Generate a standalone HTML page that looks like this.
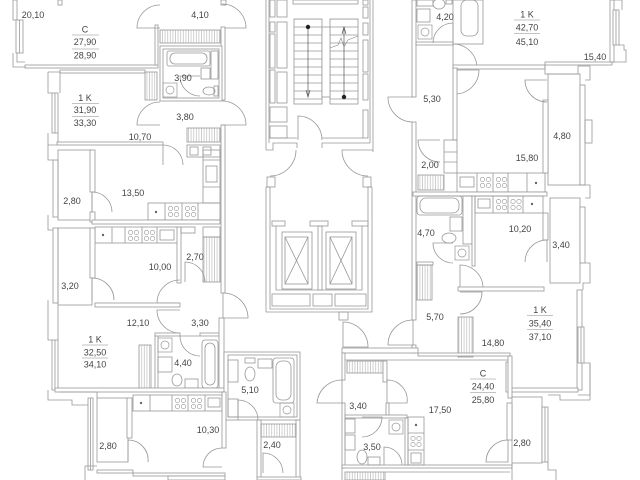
<!DOCTYPE html>
<html><head><meta charset="utf-8">
<style>
html,body{margin:0;padding:0;background:#fff;}
svg{display:block}
.w{fill:#fff;stroke:#979797;stroke-width:.8}
.l{fill:none;stroke:#979797;stroke-width:.8}
.h{fill:url(#hp);stroke:#979797;stroke-width:.8}
.t{font-family:"Liberation Sans",sans-serif;font-size:9px;fill:#444;text-anchor:middle}
.s{stroke:#888;stroke-width:.6}
</style></head><body>
<svg width="640" height="480" viewBox="0 0 640 480" xmlns="http://www.w3.org/2000/svg">
<defs>
<pattern id="hp" width="2.6" height="20" patternUnits="userSpaceOnUse"><line x1="1.3" y1="0" x2="1.3" y2="20" stroke="#a0a0a0" stroke-width=".5"/></pattern>
<pattern id="tr" width="40" height="8" patternUnits="userSpaceOnUse"><line x1="0" y1="3" x2="40" y2="3" stroke="#979797" stroke-width=".7"/></pattern>
<g id="ck" fill="none" stroke="#979797" stroke-width=".6"><circle cx="4.5" cy="4.5" r="2.2"/><circle cx="10.5" cy="4.5" r="2.2"/><circle cx="4.5" cy="10.5" r="2.2"/><circle cx="10.5" cy="10.5" r="2.2"/></g>
<g id="wm" fill="none" stroke="#979797" stroke-width=".7"><rect x="0" y="0" width="14" height="14"/><circle cx="7" cy="7" r="4"/></g>
</defs>

<!-- ===== LEFT ZONE ===== -->
<rect class="w" x="13" y="0" width="4" height="20"/>
<rect class="w" x="16" y="20" width="7" height="33"/><line class="l" x1="19.5" y1="20" x2="19.5" y2="53"/>
<path class="l" d="M13,53 V67 H25 M17,53 V62 H25"/>
<rect class="w" x="25" y="65" width="133" height="3"/>
<rect class="w" x="155" y="25" width="3" height="40"/>
<rect class="w" x="58" y="0" width="4" height="5"/>
<rect class="w" x="221" y="0" width="5" height="5"/>
<rect class="h" x="160" y="30" width="60" height="13"/>
<path class="l" d="M160,28 H137 A23,23 0 0 1 160,5"/>
<path class="l" d="M222,28 H246 A24,24 0 0 0 222,4"/>
<rect class="w" x="221" y="27" width="4" height="73"/>
<rect class="w" x="221" y="125" width="4" height="168"/>

<!-- bath 3,90 -->
<rect class="w" x="160" y="46" width="62" height="55"/>
<rect class="l" x="163" y="49" width="56" height="49"/>
<rect class="l" x="167" y="51" width="43" height="15" rx="2"/>
<rect class="l" x="170" y="53" width="37" height="11" rx="5"/>
<rect class="l" x="211" y="51" width="7" height="28"/>
<rect class="l" x="201" y="68" width="9" height="11"/>
<ellipse class="l" cx="209" cy="91" rx="6" ry="4"/>
<rect class="l" x="214" y="86" width="4" height="10"/>
<use href="#wm" x="163" y="83"/>
<path class="l" d="M200,76 H180 A20,20 0 0 0 200,96"/>

<!-- 1K 31,90 -->
<rect class="w" x="60" y="70" width="85" height="3"/>
<path class="l" d="M48,72 H60 M48,72 V93 H52 M60,72 V93"/>
<rect class="w" x="52" y="93" width="6" height="40"/><line class="l" x1="55" y1="93" x2="55" y2="133"/>
<path class="l" d="M48,133 V145 H57 M58,133 V142"/>
<rect class="h" x="145" y="72" width="12" height="28"/>
<rect class="w" x="57" y="142" width="106" height="3"/>
<path class="l" d="M163,165 V145 A20,20 0 0 1 183,165"/>
<path class="l" d="M160,125 H137 A23,23 0 0 1 160,102"/>
<path class="l" d="M222,125 H246 A24,24 0 0 0 222,101"/>
<rect class="h" x="187" y="128" width="33" height="14"/>
<rect class="l" x="187" y="145" width="33" height="12"/>
<rect class="l" x="190" y="147" width="8" height="8"/>
<rect class="l" x="203" y="147" width="8" height="8"/>

<!-- kitchen 13,50 -->
<path class="l" d="M48,145 V160 H53 M48,215 V230 H53"/>
<rect class="w" x="53" y="160" width="5" height="57"/>
<rect class="l" x="58" y="150" width="34" height="70"/>
<rect class="w" x="90" y="150" width="5" height="42"/>
<path class="l" d="M92,212 V192 A20,20 0 0 1 112,212"/>
<rect class="w" x="90" y="212" width="5" height="10"/>
<rect class="l" x="148" y="203" width="72" height="17"/>
<path class="l" d="M165,203 V220 M182,203 V220 M198,203 V220"/>
<circle cx="156" cy="212" r="1.2" fill="#666"/>
<use href="#ck" x="166" y="204"/><use href="#ck" x="183" y="204"/>
<rect class="l" x="203" y="150" width="17" height="53"/>
<path class="l" d="M203,160 H220 M203,187 H220"/>
<rect class="l" x="206" y="166" width="11" height="16"/>
<rect class="w" x="92" y="220" width="128" height="4"/>

<!-- 10,00 -->
<rect class="l" x="95" y="227" width="83" height="16"/>
<path class="l" d="M112,227 V243 M125,227 V243 M142,227 V243 M157,227 V243"/>
<circle cx="103" cy="235" r="1.2" fill="#666"/>
<use href="#ck" x="126" y="228"/><use href="#ck" x="142" y="228"/>
<rect class="l" x="160" y="230" width="14" height="10"/>
<rect class="w" x="177" y="227" width="4" height="56"/>
<rect class="l" x="181" y="227" width="14" height="6"/>
<rect class="l" x="203" y="227" width="17" height="10"/>
<rect class="h" x="203" y="237" width="17" height="45"/>
<rect class="w" x="53" y="228" width="5" height="75"/>
<rect class="l" x="58" y="228" width="34" height="77"/>
<rect class="w" x="90" y="228" width="5" height="50"/>
<path class="l" d="M92,300 V278 A22,22 0 0 1 114,300"/>
<path class="l" d="M180,303 H157 A23,23 0 0 1 180,280"/>
<path class="l" d="M185,282 V262 A20,20 0 0 1 205,282"/>
<path class="l" d="M223,318 V293 A25,25 0 0 1 248,318 Z"/>
<rect class="w" x="95" y="303" width="85" height="4"/>

<!-- 1K 32,50 -->
<path class="l" d="M48,300 V340 H52 M58,305 V340"/>
<rect class="w" x="52" y="340" width="6" height="50"/><line class="l" x1="55" y1="340" x2="55" y2="390"/>
<path class="l" d="M180,310 H157 A23,23 0 0 0 180,333"/>
<rect class="h" x="139" y="345" width="12" height="44"/>
<rect class="w" x="155" y="335" width="3" height="55"/>
<rect class="w" x="155" y="333" width="25" height="3"/>
<rect class="w" x="200" y="333" width="20" height="3"/>
<rect class="w" x="219" y="318" width="5" height="74"/>
<use href="#wm" x="158" y="338"/>
<rect class="l" x="158" y="357" width="14" height="15"/>
<ellipse class="l" cx="177" cy="380" rx="5" ry="6"/>
<rect class="l" x="185" y="379" width="13" height="9"/>
<rect class="l" x="202" y="340" width="16" height="48" rx="3"/>
<rect class="l" x="205" y="343" width="10" height="42" rx="5"/>
<path class="l" d="M200,336 H180 A20,20 0 0 0 200,356"/>
<rect class="w" x="55" y="388" width="170" height="4"/>

<!-- bath 5,10 -->
<rect class="w" x="224" y="352" width="76" height="68"/>
<rect class="l" x="228" y="355" width="69" height="62"/>
<rect class="l" x="228" y="360" width="10" height="22"/>
<ellipse class="l" cx="250" cy="374" rx="5" ry="7"/>
<rect class="l" x="245" y="358" width="10" height="5"/>
<rect class="l" x="258" y="359" width="14" height="9"/>
<rect class="l" x="273" y="358" width="21" height="45" rx="3"/>
<rect class="l" x="276" y="361" width="15" height="39" rx="6"/>
<use href="#wm" x="280" y="403"/>
<rect class="l" x="228" y="399" width="10" height="18"/>
<path class="l" d="M238,420 V400 A20,20 0 0 1 258,420"/>

<!-- 2,40 -->
<rect class="w" x="257" y="420" width="4" height="58"/>
<rect class="w" x="296" y="420" width="4" height="58"/>
<rect class="h" x="261" y="424" width="35" height="13"/>
<path class="l" d="M263,473 V453 A20,20 0 0 1 283,473"/>
<rect class="w" x="257" y="477" width="44" height="3"/>

<!-- kitchen 10,30 -->
<rect class="l" x="133" y="395" width="89" height="16"/>
<path class="l" d="M150,395 V411 M172,395 V411 M188,395 V411 M205,395 V411"/>
<circle cx="141" cy="403" r="1.2" fill="#666"/>
<use href="#ck" x="173" y="396"/><use href="#ck" x="189" y="396"/>
<rect class="l" x="208" y="398" width="12" height="9"/>
<rect class="w" x="222" y="392" width="4" height="56"/>
<path class="l" d="M222,467 H203 A19,19 0 0 1 222,448"/>
<rect class="w" x="88" y="398" width="5" height="72"/><line class="l" x1="90.5" y1="398" x2="90.5" y2="470"/>
<rect class="l" x="97" y="398" width="31" height="64"/>
<rect class="w" x="127" y="398" width="5" height="40"/>
<path class="l" d="M128,462 V440 A20,20 0 0 1 148,462"/>
<path class="l" d="M48,390 V400 H72 V405 H88 M60,392 H97 V398"/>
<path class="l" d="M85,466 V480 M85,466 H97"/>
<rect class="w" x="97" y="470" width="36" height="3"/>
<rect class="w" x="133" y="473" width="92" height="3"/>
<rect class="w" x="168" y="476" width="57" height="4"/>

<!-- ===== CORE ===== -->
<line class="l" x1="266" y1="0" x2="266" y2="150"/>
<line class="l" x1="269" y1="0" x2="269" y2="143"/>
<rect class="l" x="270" y="0" width="5" height="17"/>
<rect class="l" x="270" y="22" width="5" height="10"/>
<rect class="l" x="270" y="34" width="5" height="34"/>
<rect class="l" x="270" y="70" width="5" height="33"/>
<rect class="l" x="277" y="0" width="10" height="17"/>
<rect class="l" x="277" y="22" width="10" height="46"/>
<rect class="l" x="277" y="72" width="10" height="31"/>
<rect class="l" x="270" y="107" width="17" height="15"/>
<rect class="l" x="270" y="126" width="17" height="12"/>
<rect class="l" x="293" y="0" width="65" height="4"/>
<rect x="294" y="19" width="28" height="85" fill="url(#tr)" stroke="#979797" stroke-width=".8"/>
<rect x="330" y="19" width="28" height="85" fill="url(#tr)" stroke="#979797" stroke-width=".8"/>
<rect class="w" x="322" y="27" width="8" height="70"/>
<line x1="308" y1="27" x2="308" y2="97" stroke="#555" stroke-width=".7"/>
<circle cx="308" cy="27" r="2.2" fill="#222"/>
<path d="M306,90 L308,97 L310,90" fill="none" stroke="#555" stroke-width=".7"/>
<line x1="344" y1="27" x2="344" y2="97" stroke="#555" stroke-width=".7"/>
<circle cx="344" cy="97" r="2.2" fill="#222"/>
<path d="M342,34 L344,27 L346,34" fill="none" stroke="#555" stroke-width=".7"/>
<path d="M330,48 L338,45 L341,38 L344,47 L348,40 L358,36" fill="none" stroke="#888" stroke-width=".6"/>
<rect class="l" x="363" y="0" width="5" height="5"/>
<rect class="l" x="363" y="7" width="5" height="11"/>
<rect class="l" x="363" y="23" width="5" height="12"/>
<rect class="l" x="363" y="40" width="5" height="32"/>
<rect class="l" x="363" y="74" width="5" height="26"/>
<rect class="l" x="363" y="110" width="5" height="28"/>
<line class="l" x1="370" y1="0" x2="370" y2="143"/>
<line class="l" x1="373" y1="0" x2="373" y2="152"/>
<path class="l" d="M269,138 H297 M298,140 V116 A24,24 0 0 1 322,140 M322,138 H363"/>
<path class="l" d="M266,150 H273 V143 H297 V148 M322,148 V143 H370 M342,150 H373"/>

<!-- elevator block -->
<path class="l" d="M296,150 A26,26 0 0 1 270,176"/>
<path class="l" d="M342,150 A26,26 0 0 0 368,176"/>
<rect class="l" x="267" y="177" width="8" height="10"/>
<rect class="l" x="363" y="177" width="8" height="10"/>
<path class="l" d="M266,187 V312 H372 V187 M270,187 V309 H368 V187 M266,187 H270 M368,187 H372"/>
<path class="l" d="M276,226 V290 H362 V226"/>
<rect class="l" x="272" y="221" width="13" height="5"/>
<rect class="l" x="352" y="221" width="16" height="5"/>
<rect class="l" x="310" y="221" width="18" height="5"/>
<rect class="l" x="318" y="226" width="4" height="64"/>
<rect class="l" x="282" y="232" width="30" height="57"/>
<rect class="l" x="285" y="237" width="23" height="47"/>
<path class="l" d="M285,237 L308,284 M308,237 L285,284"/>
<rect class="l" x="326" y="232" width="30" height="57"/>
<rect class="l" x="330" y="237" width="22" height="47"/>
<path class="l" d="M330,237 L352,284 M352,237 L330,284"/>
<rect class="l" x="272" y="294" width="38" height="12"/>
<rect class="l" x="313" y="294" width="19" height="12"/>
<rect class="l" x="335" y="294" width="31" height="12"/>
<rect class="l" x="339" y="312" width="9" height="8"/>
<path class="l" d="M343,347 V322 A25,25 0 0 1 368,347 Z"/>

<!-- ===== RIGHT ZONE ===== -->
<rect class="w" x="412" y="0" width="4" height="97"/>
<rect class="l" x="417" y="0" width="16" height="6"/>
<ellipse class="l" cx="439" cy="4" rx="6" ry="5"/>
<rect class="l" x="446" y="0" width="6" height="4"/>
<rect class="l" x="417" y="9" width="13" height="13"/>
<use href="#wm" x="418" y="25"/>
<rect class="w" x="453" y="0" width="30" height="44"/>
<rect class="l" x="461" y="0" width="17" height="36" rx="6"/>
<rect class="w" x="416" y="42" width="37" height="3"/>
<path class="l" d="M453,43 V23 A20,20 0 0 0 433,43"/>
<path class="l" d="M453,68 V44 A24,24 0 0 1 477,68"/>
<path class="l" d="M455,70 H479 A24,24 0 0 1 455,94"/>
<rect class="w" x="453" y="65" width="92" height="4"/>
<rect class="w" x="545" y="62" width="67" height="3"/>
<rect class="w" x="610" y="0" width="4" height="62"/>
<rect class="w" x="613" y="10" width="6" height="35"/><line class="l" x1="616" y1="10" x2="616" y2="45"/>
<path class="l" d="M614,0 H622 V10 M619,45 H624 V50 H626 V62 H612"/>
<path class="l" d="M545,65 V74 H578 V66 H590 V80 H585"/>
<rect class="w" x="453" y="68" width="4" height="72"/>
<path class="l" d="M413,97 H388 A25,25 0 0 0 413,122"/>
<rect class="w" x="412" y="122" width="4" height="198"/>
<path class="l" d="M440,140 H418 A22,22 0 0 0 440,162"/>
<rect class="l" x="444" y="140" width="13" height="33"/>
<path class="l" d="M444,152 H457 M444,162 H457"/>
<rect class="h" x="418" y="175" width="26" height="15"/>
<rect class="l" x="457" y="173" width="88" height="19"/>
<path class="l" d="M477,173 V192 M493,173 V192 M508,173 V192 M527,173 V192"/>
<rect class="l" x="460" y="177" width="14" height="10"/>
<use href="#ck" x="478" y="175"/><use href="#ck" x="494" y="175"/>
<circle cx="536" cy="183" r="1.2" fill="#666"/>
<rect class="w" x="413" y="192" width="134" height="4"/>
<rect class="l" x="548" y="74" width="32" height="111"/>
<rect class="w" x="543" y="100" width="5" height="73"/>
<path class="l" d="M547,80 H525 A22,22 0 0 0 547,102"/>
<rect class="w" x="580" y="85" width="5" height="100"/>
<rect class="l" x="585" y="120" width="7" height="23"/>
<path class="l" d="M580,185 H590 V198 H585 M585,263 H590 V283 H583 V290 M584,363 H590 V395 H578"/>

<!-- 4,70 bath & 10,20 kitchen -->
<rect class="l" x="417" y="196" width="45" height="19" rx="3"/>
<rect class="l" x="420" y="198" width="39" height="15" rx="6"/>
<rect class="l" x="450" y="217" width="12" height="14"/>
<ellipse class="l" cx="449" cy="238" rx="7" ry="5"/>
<use href="#wm" x="455" y="246"/>
<rect class="l" x="463" y="196" width="9" height="48"/>
<rect class="w" x="472" y="196" width="3" height="70"/>
<path class="l" d="M453,243 H433 A20,20 0 0 0 453,263"/>
<rect class="w" x="417" y="262" width="16" height="3"/>
<rect class="l" x="475" y="196" width="68" height="17"/>
<path class="l" d="M493,196 V213 M508,196 V213 M523,196 V213"/>
<rect class="l" x="478" y="199" width="12" height="9"/>
<use href="#ck" x="494" y="197"/><use href="#ck" x="508.5" y="197"/>
<circle cx="532" cy="204" r="1.2" fill="#666"/>
<rect class="l" x="550" y="198" width="30" height="85"/>
<rect class="w" x="543" y="213" width="5" height="27"/>
<path class="l" d="M547,262 V240 A22,22 0 0 0 525,262"/>
<rect class="w" x="580" y="207" width="5" height="56"/>
<rect class="h" x="417" y="265" width="15" height="35"/>
<path class="l" d="M460,288 V265 A23,23 0 0 1 483,288"/>
<path class="l" d="M460,292 H482 A22,22 0 0 1 460,314"/>
<rect class="w" x="458" y="287" width="86" height="4"/>
<rect class="h" x="458" y="317" width="15" height="40"/>
<rect class="w" x="577" y="290" width="5" height="100"/>
<rect class="w" x="578" y="327" width="6" height="36"/><line class="l" x1="581" y1="327" x2="581" y2="363"/>
<rect class="w" x="510" y="388" width="68" height="4"/>
<rect class="w" x="506" y="362" width="4" height="30"/>
<path class="l" d="M413,345 V320 A25,25 0 0 0 388,345 Z"/>
<rect class="w" x="412" y="345" width="4" height="8"/>

<!-- studio -->
<rect class="w" x="342" y="348" width="76" height="5"/>
<rect class="w" x="418" y="353" width="92" height="3"/>
<rect class="w" x="342" y="353" width="3" height="27"/>
<rect class="w" x="342" y="403" width="3" height="65"/>
<rect class="w" x="508" y="356" width="4" height="42"/>
<rect class="w" x="342" y="465" width="170" height="3"/>
<line class="l" x1="345" y1="360" x2="508" y2="360"/>
<rect class="h" x="347" y="361" width="36" height="12"/>
<rect class="w" x="383" y="361" width="4" height="21"/>
<path class="l" d="M342,403 V380 A25,25 0 0 0 317,403 Z"/>
<path class="l" d="M387,403 V380 A20,20 0 0 1 407,403 Z"/>
<rect class="w" x="386" y="403" width="3" height="14"/>
<rect class="w" x="345" y="415" width="62" height="3"/>
<rect class="w" x="405" y="418" width="3" height="47"/>
<rect class="l" x="345" y="419" width="10" height="14"/>
<rect class="l" x="345" y="435" width="10" height="15"/>
<ellipse class="l" cx="362" cy="457" rx="5" ry="7"/>
<rect class="l" x="368" y="457" width="12" height="8"/>
<path class="l" d="M384,465 V447 A18,18 0 0 1 402,465"/>
<use href="#wm" x="389" y="420"/>
<path class="l" d="M362,417 H382 A20,20 0 0 1 362,437"/>
<rect class="l" x="408" y="417" width="16" height="48"/>
<path class="l" d="M408,433 H424 M408,450 H424"/>
<circle cx="416" cy="425" r="1.2" fill="#666"/>
<use href="#ck" x="408.5" y="434"/>
<rect class="l" x="411" y="453" width="10" height="10"/>
<rect class="l" x="512" y="397" width="30" height="66"/>
<rect class="w" x="507" y="403" width="5" height="37"/>
<path class="l" d="M508,462 V440 A22,22 0 0 0 486,462 Z"/>
<rect class="w" x="542" y="407" width="6" height="55"/><line class="l" x1="545" y1="407" x2="545" y2="462"/>
<path class="l" d="M548,395 H560 V400 H590 V363 M548,462 V470 H556 V480"/>
<rect class="h" x="345" y="472" width="40" height="8"/>
<path class="l" d="M342,468 V480 M512,463 V480 M385,472 H510"/>

<!-- ===== LABELS ===== -->
<text class="t" x="33" y="18">20,10</text>
<text class="t" x="85" y="32.5">C</text>
<line class="s" x1="72" y1="35" x2="99" y2="35"/>
<text class="t" x="85" y="45">27,90</text>
<line class="s" x1="72" y1="49" x2="99" y2="49"/>
<text class="t" x="85" y="58.5">28,90</text>
<text class="t" x="200" y="18">4,10</text>
<text class="t" x="183" y="81">3,90</text>
<text class="t" x="85" y="101">1 K</text>
<line class="s" x1="72" y1="103.5" x2="99" y2="103.5"/>
<text class="t" x="85" y="113">31,90</text>
<line class="s" x1="72" y1="116.5" x2="99" y2="116.5"/>
<text class="t" x="85" y="126">33,30</text>
<text class="t" x="185" y="120">3,80</text>
<text class="t" x="140" y="140">10,70</text>
<text class="t" x="72" y="204">2,80</text>
<text class="t" x="133" y="196">13,50</text>
<text class="t" x="160" y="270">10,00</text>
<text class="t" x="195" y="260">2,70</text>
<text class="t" x="70" y="289">3,20</text>
<text class="t" x="138" y="326">12,10</text>
<text class="t" x="200" y="326">3,30</text>
<text class="t" x="95" y="342.5">1 K</text>
<line class="s" x1="82" y1="345" x2="108" y2="345"/>
<text class="t" x="95" y="355.5">32,50</text>
<line class="s" x1="82" y1="358" x2="108" y2="358"/>
<text class="t" x="95" y="367.5">34,10</text>
<text class="t" x="183" y="366">4,40</text>
<text class="t" x="250" y="393">5,10</text>
<text class="t" x="208" y="433">10,30</text>
<text class="t" x="108" y="449">2,80</text>
<text class="t" x="272" y="448">2,40</text>
<text class="t" x="445" y="20">4,20</text>
<text class="t" x="527" y="17.5">1 K</text>
<line class="s" x1="514" y1="20" x2="540" y2="20"/>
<text class="t" x="527" y="30.5">42,70</text>
<line class="s" x1="514" y1="33.5" x2="540" y2="33.5"/>
<text class="t" x="527" y="45">45,10</text>
<text class="t" x="595" y="60">15,40</text>
<text class="t" x="432" y="102">5,30</text>
<text class="t" x="562" y="139">4,80</text>
<text class="t" x="527" y="161">15,80</text>
<text class="t" x="430" y="168">2,00</text>
<text class="t" x="426" y="236">4,70</text>
<text class="t" x="520" y="232">10,20</text>
<text class="t" x="561" y="248">3,40</text>
<text class="t" x="435" y="320">5,70</text>
<text class="t" x="493" y="346">14,80</text>
<text class="t" x="540" y="313">1 K</text>
<line class="s" x1="527" y1="315.5" x2="553" y2="315.5"/>
<text class="t" x="540" y="326.5">35,40</text>
<line class="s" x1="527" y1="329.5" x2="553" y2="329.5"/>
<text class="t" x="540" y="340">37,10</text>
<text class="t" x="483" y="376.5">C</text>
<line class="s" x1="470" y1="379" x2="496" y2="379"/>
<text class="t" x="483" y="389.5">24,40</text>
<line class="s" x1="470" y1="392.5" x2="496" y2="392.5"/>
<text class="t" x="483" y="403">25,80</text>
<text class="t" x="440" y="413">17,50</text>
<text class="t" x="358" y="409">3,40</text>
<text class="t" x="372" y="450">3,50</text>
<text class="t" x="522" y="446">2,80</text>
</svg>
</body></html>
